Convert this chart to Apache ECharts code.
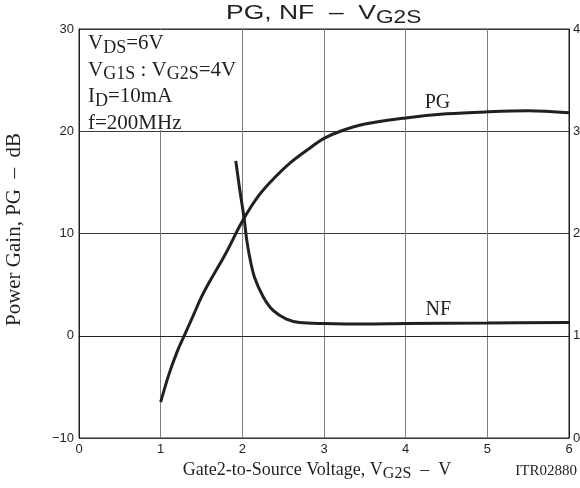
<!DOCTYPE html>
<html>
<head>
<meta charset="utf-8">
<script src="https://cdn.jsdelivr.net/npm/echarts@6/dist/echarts.min.js"></script>
<style>
  html, body { margin: 0; padding: 0; background: #fff; }
  #chart { width: 580px; height: 488px; }
</style>
</head>
<body>
<div id="chart"></div>
<script>
// PG curve (left axis, dB) vs V_G2S
const pgVoltage = [1.0, 1.1, 1.2, 1.3, 1.4, 1.5, 1.6, 1.8, 2.0, 2.2, 2.4, 2.6, 2.8, 3.0, 3.2, 3.5, 4.0, 4.5, 5.0, 5.5, 6.0];
const pgGain = [-6.5, -3.8, -1.6, 0.2, 2.0, 3.8, 5.3, 8.1, 11.2, 13.7, 15.5, 17.0, 18.2, 19.3, 20.0, 20.7, 21.3, 21.7, 21.9, 22.0, 21.8];

// NF curve (right axis, 0..40 scale) vs V_G2S
const nfVoltage = [1.92, 1.97, 2.02, 2.05, 2.09, 2.15, 2.26, 2.38, 2.54, 2.70, 3.0, 3.5, 4.0, 5.0, 6.0];
const nfValue = [27.1, 24.2, 21.6, 19.6, 17.7, 15.7, 13.75, 12.45, 11.63, 11.3, 11.2, 11.15, 11.2, 11.25, 11.3];

const xTicks = [0, 1, 2, 3, 4, 5, 6];
const leftTicks = [-10, 0, 10, 20, 30];
const rightTicks = [0, 10, 20, 30, 40];

const ink = "#231f20";
const serif = "'Liberation Serif', 'Times New Roman', serif";
const sans = "'Liberation Sans', Arial, sans-serif";

function pairs(xs, ys) {
  return xs.map((x, i) => [x, ys[i]]);
}

const chart = echarts.init(document.getElementById("chart"));

const option = {
  animation: false,
  backgroundColor: "#fff",
  grid: {
    left: 79,
    right: 11,
    top: 29,
    bottom: 50,
    outerBoundsMode: "none",
    containLabel: false,
    show: true,
    borderColor: ink,
    borderWidth: 1
  },
  xAxis: {
    type: "value",
    min: xTicks[0],
    max: xTicks[xTicks.length - 1],
    interval: 1,
    name: "{m|Gate2-to-Source Voltage, V}{s|G2S}{m|  –  V}",
    nameLocation: "middle",
    nameGap: 14,
    nameTextStyle: {
      padding: [0, 14, 0, 0],
      rich: {
        m: { fontFamily: serif, fontSize: 18, color: ink },
        s: { fontFamily: serif, fontSize: 16, color: ink, padding: [8, 0, 0, 0] }
      }
    },
    axisLine: { lineStyle: { color: ink, width: 1 } },
    axisTick: { show: false },
    axisLabel: { fontFamily: sans, fontSize: 13, color: ink, margin: 5 },
    splitLine: { show: true, lineStyle: { color: "#7d7d7d", width: 1 } }
  },
  yAxis: [
    {
      type: "value",
      min: leftTicks[0],
      max: leftTicks[leftTicks.length - 1],
      interval: 10,
      name: "Power Gain, PG  –  dB",
      nameLocation: "middle",
      nameGap: 54,
      nameTextStyle: { fontFamily: serif, fontSize: 21, color: ink, padding: [0, 0, 0, 8] },
      axisLine: { show: true, lineStyle: { color: ink } },
      axisTick: { show: false },
      axisLabel: {
        fontFamily: sans,
        fontSize: 13,
        color: ink,
        margin: 5,
        formatter: (v) => String(v).replace("-", "\u2212")
      },
      splitLine: { show: true, lineStyle: { color: "#3a3a3a", width: 1 } }
    },
    {
      type: "value",
      position: "right",
      min: rightTicks[0],
      max: rightTicks[rightTicks.length - 1],
      interval: 10,
      axisLine: { show: true, lineStyle: { color: ink } },
      axisTick: { show: false },
      axisLabel: { fontFamily: sans, fontSize: 13, color: ink, margin: 4 },
      splitLine: { show: false }
    }
  ],
  series: [
    {
      name: "PG",
      type: "line",
      yAxisIndex: 0,
      data: pairs(pgVoltage, pgGain),
      smooth: 0.35,
      showSymbol: false,
      lineStyle: { color: ink, width: 3 },
      markPoint: {
        symbolSize: 0,
        data: [{ coord: [4.39, 22.8] }],
        label: {
          show: true,
          formatter: "PG",
          fontFamily: serif,
          fontSize: 20,
          color: ink
        }
      }
    },
    {
      name: "NF",
      type: "line",
      yAxisIndex: 1,
      data: pairs(nfVoltage, nfValue),
      smooth: 0.35,
      showSymbol: false,
      lineStyle: { color: ink, width: 3 },
      markPoint: {
        symbolSize: 0,
        data: [{ coord: [4.4, 12.5] }],
        label: {
          show: true,
          formatter: "NF",
          fontFamily: serif,
          fontSize: 20,
          color: ink
        }
      }
    }
  ],
  graphic: [
    {
      type: "text",
      x: 226,
      y: 0,
      scaleX: 1.26,
      style: {
        text: "{m|PG, NF  –  V}{s|G2S}",
        rich: {
          m: { fontFamily: sans, fontSize: 21, fill: ink },
          s: { fontFamily: sans, fontSize: 18, fill: ink, padding: [9, 0, 0, 0] }
        }
      }
    },
    // white patch behind the condition notes, stops above the 20 dB line
    {
      type: "rect",
      left: 80,
      top: 30,
      z: 99,
      shape: { width: 158, height: 100 },
      style: { fill: "#fff" }
    },
    {
      type: "text",
      left: 88,
      top: 30,
      z: 100,
      style: {
        text: "{m|V}{s|DS}{m|=6V}\n{m|V}{s|G1S}{m| : V}{s|G2S}{m|=4V}\n{m|I}{s|D}{m|=10mA}\n{m|f=200MHz}",
        rich: {
          m: { fontFamily: serif, fontSize: 21, fill: ink, lineHeight: 26.5 },
          s: { fontFamily: serif, fontSize: 18, fill: ink, lineHeight: 26.5, padding: [9, 0, 0, 0] }
        }
      }
    },
    {
      type: "text",
      right: 3,
      bottom: 9,
      style: {
        text: "ITR02880",
        fontFamily: serif,
        fontSize: 15,
        fill: ink
      }
    }
  ]
};

chart.setOption(option);
</script>
</body>
</html>
